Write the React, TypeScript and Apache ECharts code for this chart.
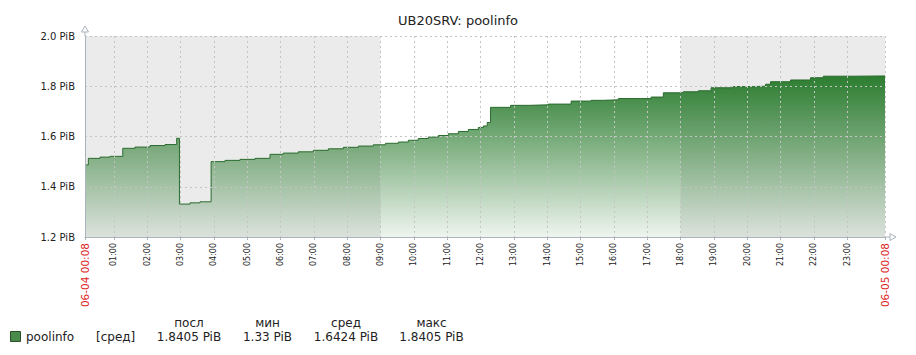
import React, { useEffect, useRef } from "react";
import * as echarts from "echarts";

const titleText = "UB20SRV: poolinfo";
const times = [
  "00:08", "00:14", "00:35", "00:53", "01:16", "01:38", "02:05", "02:32", "02:53", "02:58",
  "03:17", "03:35", "03:55", "04:20", "04:47", "05:14", "05:41", "06:05", "06:32", "06:59",
  "07:26", "07:53", "08:20", "08:47", "09:09", "09:32", "09:50", "10:08", "10:26", "10:44",
  "11:02", "11:20", "11:38", "11:56", "12:05", "12:12", "12:18", "12:54", "13:26", "14:02",
  "14:43", "15:19", "15:41", "16:08", "17:07", "17:29", "18:05", "18:32", "18:55", "19:35",
  "20:11", "20:33", "20:42", "21:18", "21:54", "22:17", "23:11", "24:08",
];
const poolinfo = [
  1.487, 1.513, 1.518, 1.521, 1.553, 1.558, 1.564, 1.568, 1.593, 1.331,
  1.336, 1.340, 1.500, 1.505, 1.509, 1.513, 1.529, 1.534, 1.539, 1.545,
  1.551, 1.557, 1.562, 1.567, 1.573, 1.578, 1.585, 1.592, 1.598, 1.604,
  1.611, 1.620, 1.628, 1.636, 1.642, 1.656, 1.716, 1.724, 1.726, 1.729,
  1.741, 1.744, 1.746, 1.751, 1.757, 1.774, 1.778, 1.782, 1.794, 1.799,
  1.800, 1.808, 1.818, 1.825, 1.834, 1.840, 1.841, 1.8405,
];
const startLabel = "06-04 00:08";
const endLabel = "06-05 00:08";
const hourTicks = [1, 2, 3, 4, 5, 6, 7, 8, 9, 10, 11, 12, 13, 14, 15, 16, 17, 18, 19, 20, 21, 22, 23];
const nonWorking = [["00:08", "09:00"], ["18:00", "24:08"]];
const yTicks = { min: 1.2, max: 2.0, interval: 0.2 };
const legendHeaders = ["посл", "мин", "сред", "макс"];
const legendValues = ["1.8405 PiB", "1.33 PiB", "1.6424 PiB", "1.8405 PiB"];
const seriesName = "poolinfo";
const seriesFunc = "[сред]";

const toH = (s: string) => {
  const [h, m] = s.split(":").map(Number);
  return h + m / 60;
};

export default function App() {
  const ref = useRef<HTMLDivElement>(null);
  useEffect(() => {
    if (!ref.current) return;
    const chart = echarts.init(ref.current, null, { renderer: "svg" });
    const xMin = toH(times[0]);
    const xMax = toH(times[times.length - 1]);
    const labelVals = [xMin, ...hourTicks, xMax];
    const font = "DejaVu Sans";
    const axisColor = "#a9b3bc";
    const gridLine = { show: true, lineStyle: { color: "#c4c4c4", type: [2, 3] as any, width: 1 } };
    const colX = [189, 267.5, 346, 431.5];
    const graphics: any[] = [
      { type: "line", shape: { x1: 85, y1: 36, x2: 85, y2: 31 }, style: { stroke: axisColor, lineWidth: 1 } },
      { type: "polygon", shape: { points: [[81.5, 32], [88.5, 32], [85, 26]] }, style: { stroke: axisColor, fill: "#fff", lineWidth: 1 } },
      { type: "line", shape: { x1: 885, y1: 237, x2: 890, y2: 237 }, style: { stroke: axisColor, lineWidth: 1 } },
      { type: "polygon", shape: { points: [[890, 233.5], [890, 240.5], [896, 237]] }, style: { stroke: axisColor, fill: "#fff", lineWidth: 1 } },
      { type: "rect", shape: { x: 10.5, y: 331.5, width: 10, height: 10 }, style: { fill: "#4a8a4a", stroke: "#2b4f2b", lineWidth: 1 } },
      { type: "text", x: 26, y: 337, style: { text: seriesName, font: `12px '${font}'`, fill: "#222", textVerticalAlign: "middle" } },
      { type: "text", x: 96, y: 337, style: { text: seriesFunc, font: `12px '${font}'`, fill: "#222", textVerticalAlign: "middle" } },
    ];
    legendHeaders.forEach((h, i) => {
      graphics.push({ type: "text", x: colX[i], y: 323, style: { text: h, font: `12px '${font}'`, fill: "#222", textAlign: "center", textVerticalAlign: "middle" } });
      graphics.push({ type: "text", x: colX[i], y: 337, style: { text: legendValues[i], font: `12px '${font}'`, fill: "#222", textAlign: "center", textVerticalAlign: "middle" } });
    });
    chart.setOption({
      animation: false,
      backgroundColor: "#fff",
      textStyle: { fontFamily: font },
      title: {
        text: titleText,
        left: "center",
        top: 9,
        textStyle: { fontFamily: font, fontSize: 13, fontWeight: "normal", color: "#222" },
      },
      grid: { left: 85, top: 36, right: 31, bottom: 118, containLabel: false },
      xAxis: {
        type: "value",
        min: xMin,
        max: xMax,
        z: 4,
        axisLine: { show: true, lineStyle: { color: axisColor } },
        axisTick: { show: true, customValues: labelVals, length: 3, lineStyle: { color: axisColor } },
        splitLine: gridLine,
        axisLabel: {
          customValues: labelVals,
          rotate: 90,
          margin: 6,
          showMinLabel: true,
          showMaxLabel: true,
          hideOverlap: false,
          formatter: (v: number) => {
            if (Math.abs(v - xMin) < 1e-6) return `{r|${startLabel}}`;
            if (Math.abs(v - xMax) < 1e-6) return `{r|${endLabel}}`;
            const h = Math.round(v);
            return `{h|${String(h).padStart(2, "0")}:00}`;
          },
          rich: {
            r: { color: "#dd2222", fontSize: 10.5, fontFamily: font },
            h: { color: "#222", fontSize: 8, fontFamily: font },
          },
        },
      },
      yAxis: {
        type: "value",
        min: yTicks.min,
        max: yTicks.max,
        interval: yTicks.interval,
        z: 4,
        axisLine: { show: true, lineStyle: { color: axisColor } },
        axisTick: { show: false },
        splitLine: gridLine,
        axisLabel: {
          margin: 10,
          fontSize: 10,
          color: "#222",
          fontFamily: font,
          formatter: (v: number) => `${v.toFixed(1)} PiB`,
        },
      },
      series: [
        {
          type: "line",
          name: seriesName,
          step: "end",
          z: 2,
          symbol: "none",
          data: times.map((t, i) => [toH(t), poolinfo[i]]),
          lineStyle: { color: "#2a6b2e", width: 1 },
          areaStyle: {
            origin: "start",
            opacity: 1,
            color: new echarts.graphic.LinearGradient(0, 0, 0, 1, [
              { offset: 0, color: "rgba(44,125,48,1)" },
              { offset: 1, color: "rgba(44,125,48,0.08)" },
            ]),
          },
          markArea: {
            silent: true,
            z: 1,
            itemStyle: { color: "#ebebeb" },
            data: nonWorking.map(([a, b]) => [{ xAxis: toH(a) }, { xAxis: toH(b) }]),
          },
        },
      ],
      graphic: graphics,
    });
    return () => chart.dispose();
  }, []);
  return <div ref={ref} style={{ position: "fixed", left: 0, top: 0, width: 916, height: 355 }} />;
}
